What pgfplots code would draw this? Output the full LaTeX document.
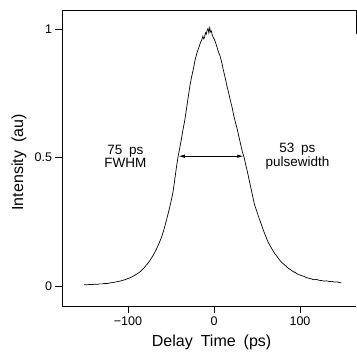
\documentclass[border=0pt]{standalone}
\usepackage{fontspec}
\setmainfont{Liberation Sans}[WordSpace=1.8]
\usepackage{pgfplots}
\pgfplotsset{compat=1.18}
\usetikzlibrary{arrows.meta}
\pgfplotstableread{
x y
-151 0.005
-148 0.004
-145 0.006
-142 0.005
-139 0.007
-136 0.006
-133 0.008
-130 0.008
-127 0.010
-124 0.009
-121 0.012
-118 0.013
-115 0.015
-112 0.017
-109 0.019
-106 0.022
-103 0.025
-100 0.029
-97 0.033
-94 0.038
-91 0.044
-88 0.050
-85 0.058
-82 0.068
-79 0.080
-76 0.092
-73 0.107
-70 0.124
-67 0.143
-64 0.165
-61 0.190
-58 0.222
-55 0.260
-52 0.300
-50 0.328
-48 0.360
-46 0.405
-44 0.455
-42 0.500
-40 0.535
-38 0.570
-36 0.610
-34 0.645
-32 0.690
-30 0.735
-28 0.780
-26 0.815
-24 0.845
-22 0.880
-20 0.905
-18 0.925
-16 0.945
-14 0.960
-13 0.972
-12 0.962
-11 0.968
-10 0.985
-9 0.980
-8 0.995
-7 1.002
-6 0.985
-5 1.005
-4 0.988
-3 0.992
-2 0.975
-1 0.968
0 0.962
1 0.955
3 0.935
5 0.912
7 0.895
9 0.870
11 0.838
13 0.810
15 0.778
17 0.752
19 0.722
21 0.695
23 0.662
25 0.636
27 0.610
29 0.580
31 0.550
33 0.522
35 0.500
37 0.470
39 0.442
41 0.410
43 0.380
45 0.348
47 0.318
49 0.298
51 0.278
53 0.258
55 0.240
57 0.220
59 0.203
61 0.186
63 0.170
65 0.158
67 0.146
69 0.135
71 0.124
73 0.116
75 0.106
77 0.098
80 0.088
83 0.079
86 0.070
89 0.063
92 0.056
95 0.051
98 0.045
101 0.041
104 0.038
107 0.033
110 0.030
113 0.028
116 0.024
119 0.026
122 0.022
125 0.021
128 0.019
131 0.020
134 0.017
137 0.018
140 0.015
143 0.016
146 0.013
148 0.012
}\pulse
\begin{document}
\begin{tikzpicture}
\begin{axis}[
  scale only axis,
  width=293.5pt, height=296pt,
  xmin=-176.2, xmax=165.1,
  ymin=-0.078, ymax=1.074,
  axis x line*=bottom, axis y line*=left,
  axis line style={-, line width=0.8pt},
  tick align=outside,
  major tick length=7pt,
  tick style={line width=0.8pt, black},
  xtick={-100,0,100}, xticklabels={−100,0,100},
  ytick={0,0.5,1}, yticklabels={0,0.5,1},
  ticklabel style={font=\fontsize{12.5}{14}\selectfont},
  xlabel={Delay Time (ps)},
  ylabel={Intensity (au)},
  label style={font=\fontsize{16}{18}\selectfont},
  xlabel style={at={(axis description cs:0.508,-0.1216)}, anchor=center},
  ylabel style={at={(axis description cs:-0.148,0.485)}, anchor=center},
  clip=false,
]
\addplot[black, line width=0.7pt] table[x=x, y=y] {\pulse};
\addplot[black, line width=0.7pt, {Latex[length=6pt,width=3.5pt]}-{Latex[length=6pt,width=3.5pt]}] coordinates {(-41,0.505) (34,0.505)};
\node[align=center, font=\fontsize{13.5}{12.5}\selectfont] at (axis cs:-103,0.505) {75 ps\\FWHM};
\node[align=center, font=\fontsize{13.5}{12.5}\selectfont] at (axis cs:97,0.505) {53 ps\\pulsewidth};
\draw[line width=0.8pt] (rel axis cs:0,1) -- (rel axis cs:1,1) -- (rel axis cs:1,0.92);
\coordinate (ll) at (rel axis cs:0,0);
\coordinate (ur) at (rel axis cs:1,1);
\end{axis}
\path ([xshift=-62.5pt,yshift=-44pt]ll) rectangle ([xshift=1pt,yshift=10pt]ur);
\end{tikzpicture}
\end{document}
